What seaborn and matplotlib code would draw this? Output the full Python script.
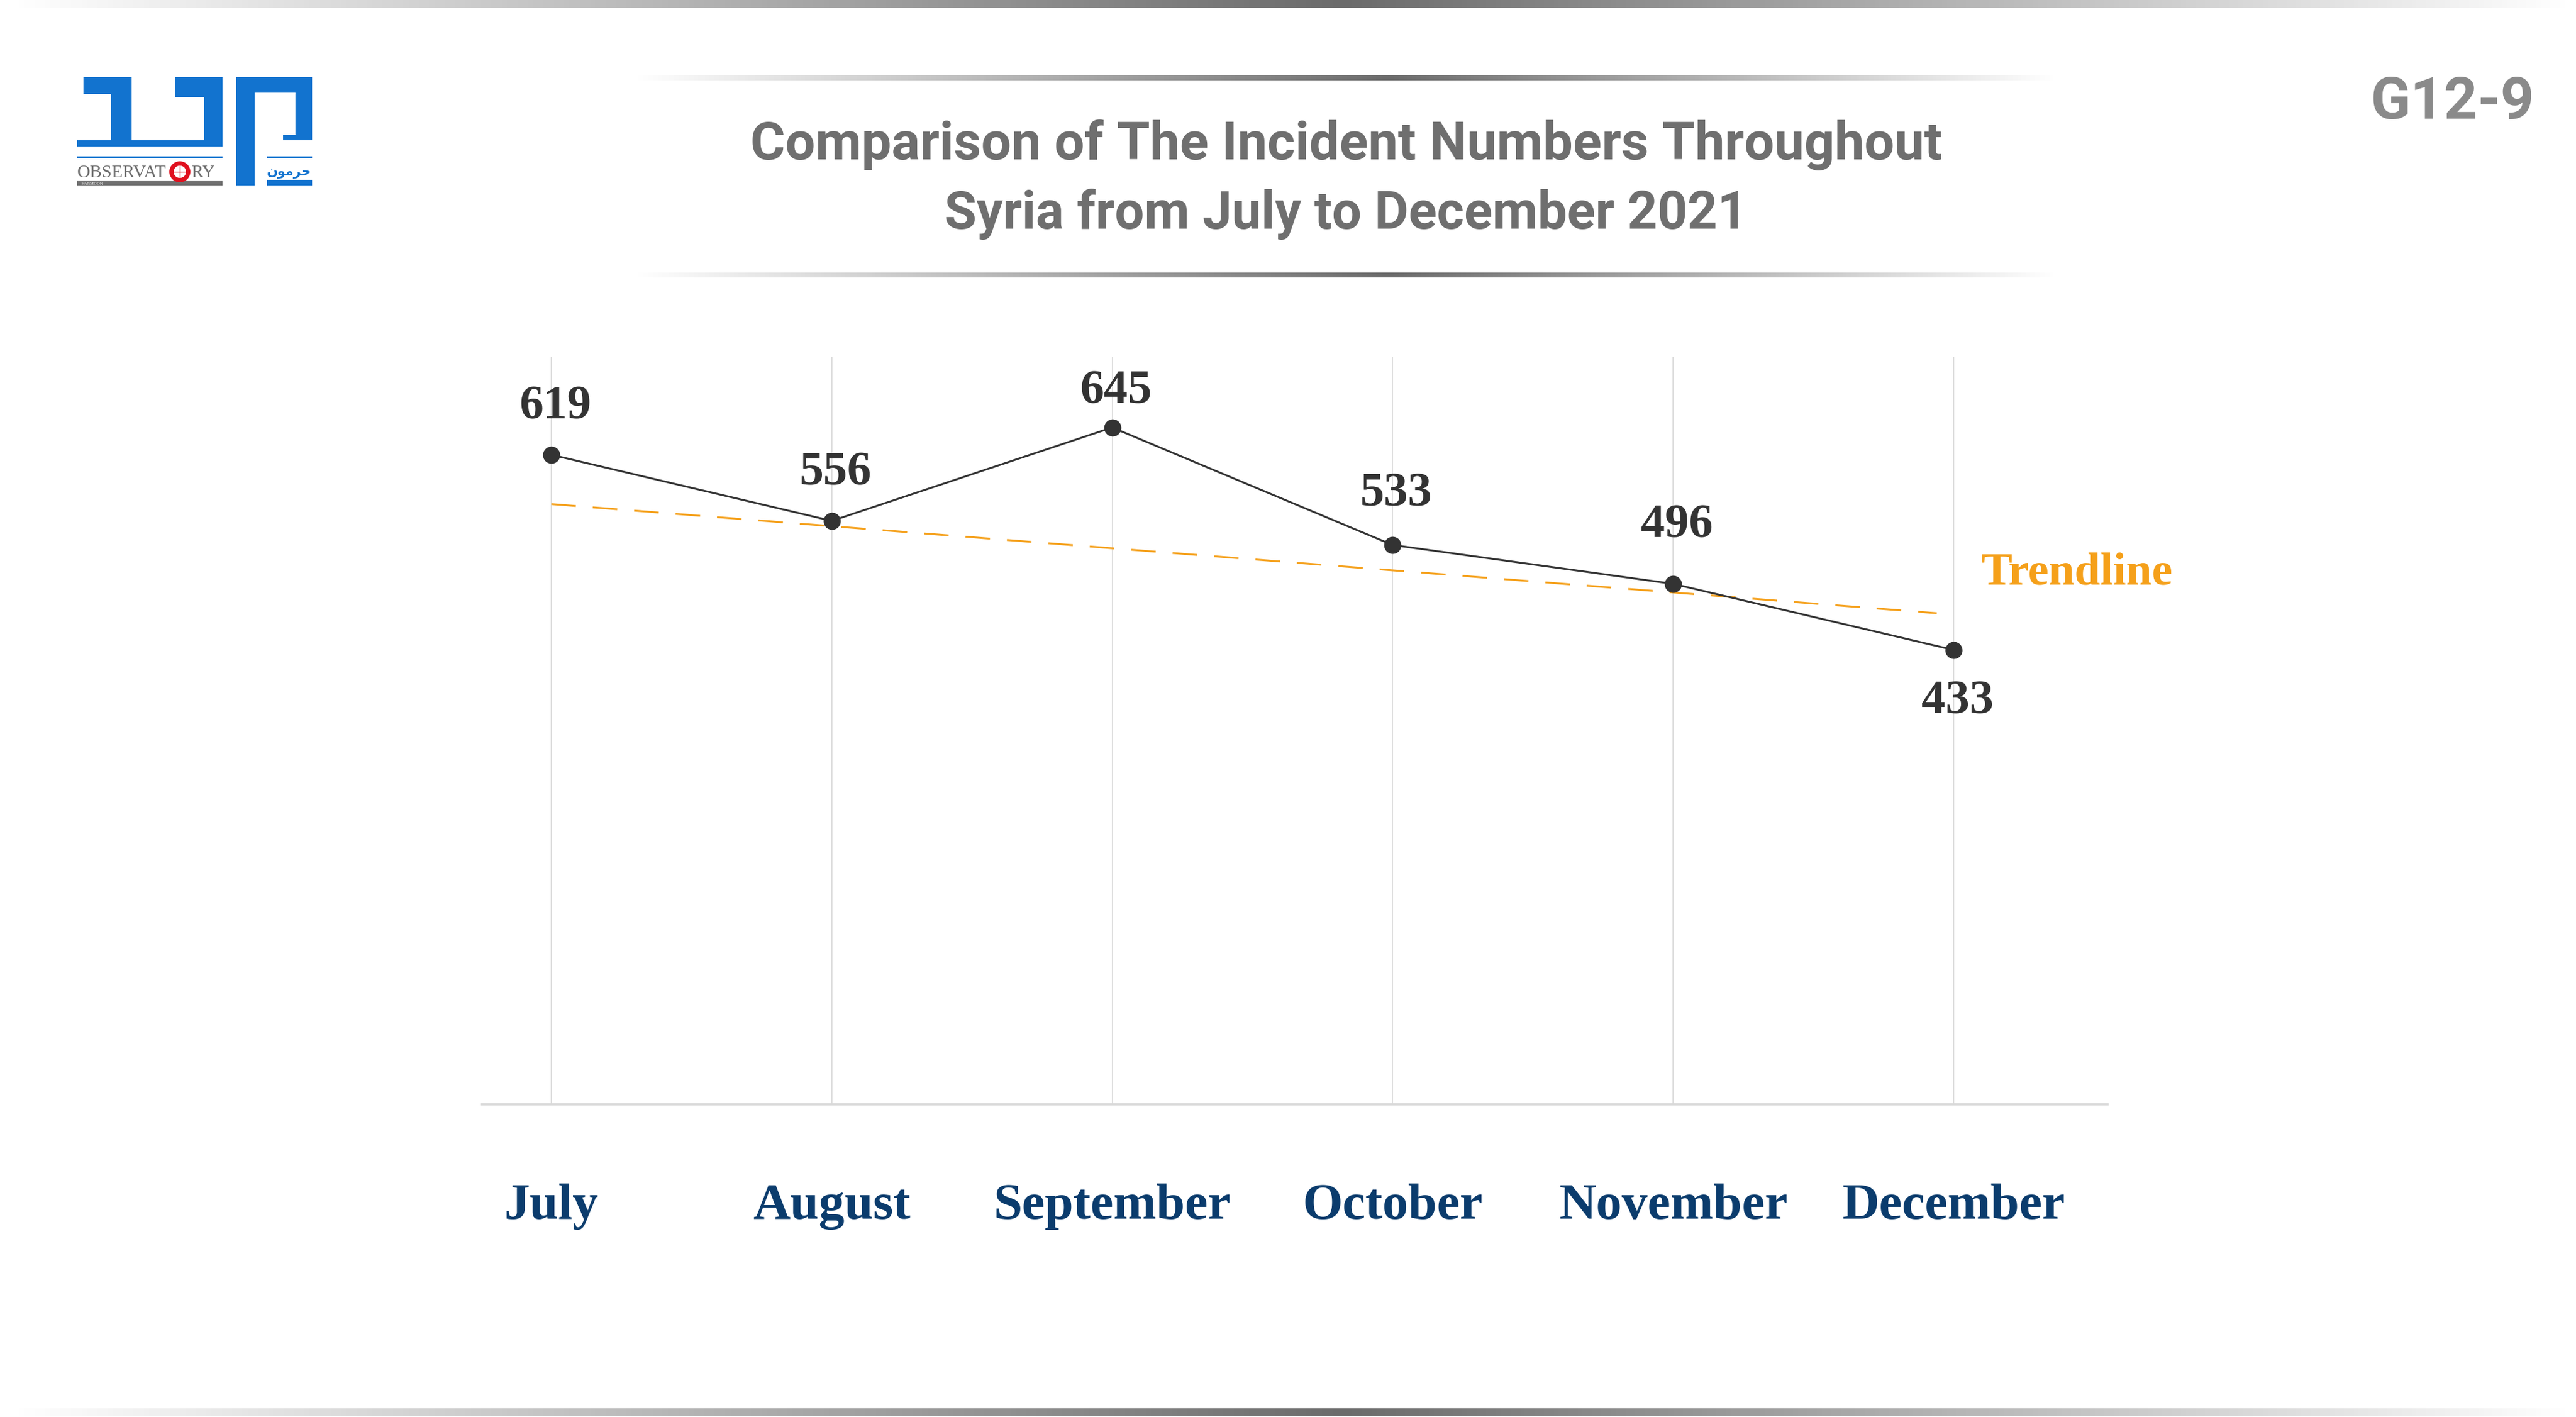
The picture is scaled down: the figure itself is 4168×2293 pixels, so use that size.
import numpy as np
import matplotlib
matplotlib.use("Agg")
import matplotlib.pyplot as plt
import seaborn as sns
from matplotlib.colors import LinearSegmentedColormap
from matplotlib.patches import Rectangle, Circle

months = ["July", "August", "September", "October", "November", "December"]
incidents = [619, 556, 645, 533, 496, 433]
# trendline as drawn in the source (start / end)
trend_x = [0, 4.94]
trend_y = [572, 468]

title_1 = "Comparison of The Incident Numbers Throughout"
title_2 = "Syria from July to December 2021"
code = "G12-9"

# label offsets in pixels (baseline relative to the point)
label_dy = [58, 58, 39, 63, 75, -103]

sns.set_theme(style="white")
plt.rcParams["font.family"] = ["Liberation Serif", "DejaVu Serif"]
title_family = ["Roboto", "DejaVu Sans"]

W, H = 4168, 2293
fig = plt.figure(figsize=(W / 100, H / 100), dpi=100)

# full-figure layer in pixel coords for decorations
bg = fig.add_axes([0, 0, 1, 1])
bg.axis("off")

grey = LinearSegmentedColormap.from_list("bar", ["#ffffff", "#6b6b6b"])


def grad_bar(x0, x1, y0, y1, peak):
    xs = np.linspace(0, 1, 800)
    g = np.where(xs < peak, xs / peak, (1 - xs) / (1 - peak))
    bg.imshow(g[None, :], cmap=grey, vmin=0, vmax=1, extent=(x0, x1, y1, y0),
              aspect="auto", interpolation="bilinear")


grad_bar(20, 4160, 0, 13, 0.52)
grad_bar(20, 4160, 2279, 2292, 0.52)
grad_bar(1029, 3326, 122, 130, 0.53)
grad_bar(1029, 3326, 441, 449, 0.53)

# logo
blue = "#1273cf"
for x, y, w, h in [(135, 125, 78, 27), (180, 125, 33, 102), (283, 125, 77, 32),
                   (330, 125, 30, 102), (125, 227, 235, 10), (125, 253, 235, 3),
                   (382, 125, 30, 175), (382, 125, 123, 25), (478, 125, 27, 102),
                   (458, 218, 47, 9), (432, 253, 73, 3), (432, 291, 73, 9)]:
    bg.add_patch(Rectangle((x, y), w, h, color=blue, lw=0))
bg.add_patch(Rectangle((125, 292), 235, 8, color="#707070", lw=0))
bg.add_patch(Circle((291, 278), 17, color="#e0101e", lw=0))
bg.add_patch(Circle((291, 278), 10, color="white", lw=0))
bg.plot([279, 303], [278, 278], color="#e0101e", lw=1)
bg.plot([291, 291], [266, 290], color="#e0101e", lw=1)
bg.text(125, 287, "OBSERVAT", fontsize=21, color="#6d6d6d", va="baseline")
bg.text(309, 287, "RY", fontsize=21, color="#6d6d6d", va="baseline")
bg.text(132, 299, "HARMOON", fontsize=5, color="white", va="baseline")
bg.text(468, 284, "\uFEE5\uFEEE\uFEE3\uFEAE\uFEA3", fontsize=15, color=blue,
        ha="center", va="baseline", family=["DejaVu Sans"], fontweight="bold")

# titles
tkw = dict(family=title_family, fontweight="bold", color="#6f6f6f",
           ha="center", va="baseline")
t1 = bg.text(2178, 258, title_1, fontsize=66, **tkw)
t2 = bg.text(2178, 370, title_2, fontsize=66, **tkw)
tc = bg.text(4101, 192, code, fontsize=88, family=title_family, fontweight="bold",
             color="#8a8a8a", ha="right", va="baseline")

bg.text(3206, 946, "Trendline", fontsize=54, fontweight="bold", color="#f5a01a",
        va="baseline")
bg.set_xlim(0, W)
bg.set_ylim(H, 0)

# shrink title texts so their widths match the source
renderer = fig.canvas.get_renderer()
for t, target in [(t1, 1930), (t2, 1300), (tc, 265)]:
    w = t.get_window_extent(renderer).width
    if w > target:
        t.set_fontsize(t.get_fontsize() * target / w)

# chart
ax = fig.add_axes([780 / W, 1 - 1787 / H, 2630 / W, (1787 - 578) / H])
x = np.arange(len(months))

ax.plot(trend_x, trend_y, color="#f5a01a", lw=2.2, dashes=(13, 9), zorder=2)
sns.lineplot(x=x, y=incidents, ax=ax, color="#333333", lw=2.2, marker="o",
             markersize=20, markeredgewidth=0, zorder=3)

for i, v in enumerate(incidents):
    ax.annotate(str(v), (i, v), xytext=(6, label_dy[i]), textcoords="offset pixels",
                ha="center", va="baseline", fontsize=56, fontweight="bold",
                color="#333333")

ax.set_xlim(-0.247, 5.549)
ax.set_ylim(0, 712)
ax.set_yticks([])
ax.set_xticks(x, months)
ax.tick_params(axis="x", length=0, pad=92, labelsize=60, labelcolor="#0b3c6d")
for lab in ax.get_xticklabels():
    lab.set_fontweight("bold")
ax.grid(axis="x", color="#d9d9d9", lw=1.2)
ax.set_axisbelow(True)
for s in ["top", "left", "right"]:
    ax.spines[s].set_visible(False)
ax.spines["bottom"].set_color("#d9d9d9")
ax.spines["bottom"].set_linewidth(2.6)
ax.set_xlabel("")
ax.set_facecolor("none")

fig.savefig("out.png", dpi=100)
plt.close()
